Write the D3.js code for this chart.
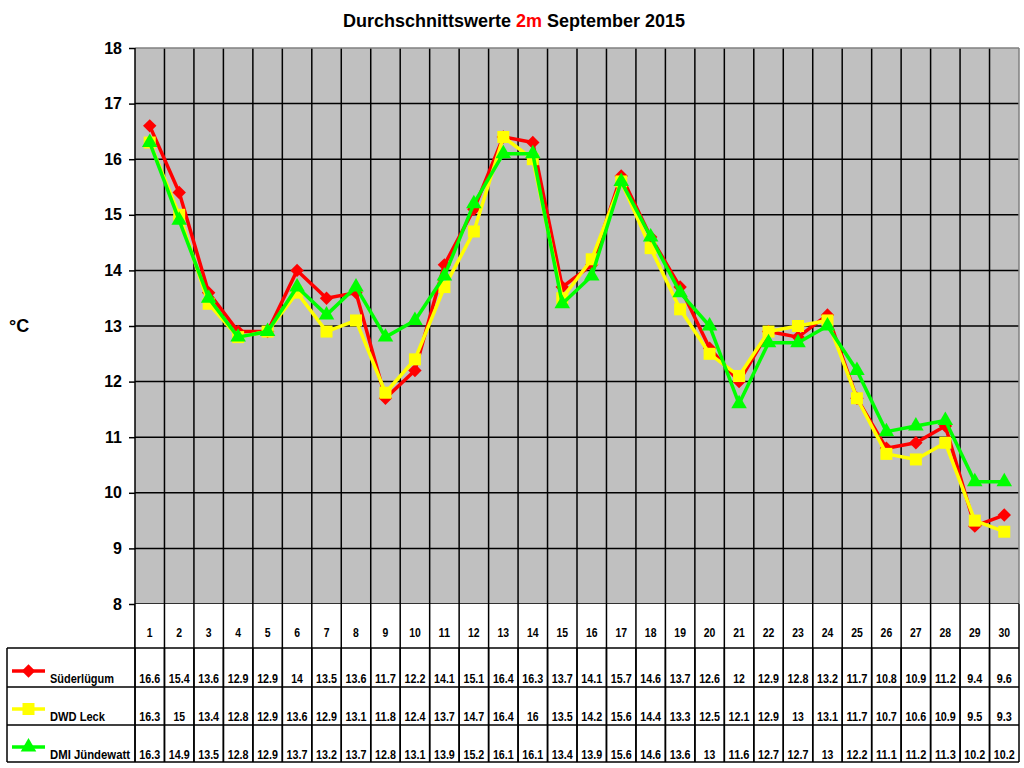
<!DOCTYPE html>
<html>
<head>
<meta charset="utf-8">
<script src="https://cdn.jsdelivr.net/npm/d3@7"></script>
<style>
  body { margin: 0; background: #fff; }
  svg { display: block; font-family: "Liberation Sans", Arial, sans-serif; }
</style>
</head>
<body>
<svg id="chart" width="1024" height="768"></svg>
<script>
// Daily mean temperatures at 2 m, September 2015
const days = d3.range(1, 31);
const seriesNames = ["Süderlügum", "DWD Leck", "DMI Jündewatt"];
const seriesColors = ["#ff0000", "#ffff00", "#00ff00"];
const seriesSymbols = ["diamond", "square", "triangle"];

const suederluegum = [16.6, 15.4, 13.6, 12.9, 12.9, 14, 13.5, 13.6, 11.7, 12.2, 14.1, 15.1, 16.4, 16.3, 13.7,
  14.1, 15.7, 14.6, 13.7, 12.6, 12, 12.9, 12.8, 13.2, 11.7, 10.8, 10.9, 11.2, 9.4, 9.6];
const dwdLeck = [16.3, 15, 13.4, 12.8, 12.9, 13.6, 12.9, 13.1, 11.8, 12.4, 13.7, 14.7, 16.4, 16, 13.5,
  14.2, 15.6, 14.4, 13.3, 12.5, 12.1, 12.9, 13, 13.1, 11.7, 10.7, 10.6, 10.9, 9.5, 9.3];
const dmiJuendewatt = [16.3, 14.9, 13.5, 12.8, 12.9, 13.7, 13.2, 13.7, 12.8, 13.1, 13.9, 15.2, 16.1, 16.1, 13.4,
  13.9, 15.6, 14.6, 13.6, 13, 11.6, 12.7, 12.7, 13, 12.2, 11.1, 11.2, 11.3, 10.2, 10.2];
const yTicks = d3.range(8, 19);

const allSeries = [suederluegum, dwdLeck, dmiJuendewatt];

const svg = d3.select("#chart");

const plotLeft = 135, plotRight = 1019, plotTop = 48, plotBottom = 604;
const tableLeft = 7;
const rowLines = [648, 687, 725, 762];
const tableFont = 12.5;

const x = d3.scaleBand().domain(days).range([plotLeft, plotRight]).padding(0);
const y = d3.scaleLinear().domain([8, 18]).range([plotBottom, plotTop]);
const cx = d => x(d) + x.bandwidth() / 2;

// title
const title = svg.append("text")
    .attr("x", 514).attr("y", 27)
    .attr("text-anchor", "middle")
    .attr("font-size", 18).attr("font-weight", "bold");
title.append("tspan").text("Durchschnittswerte ");
title.append("tspan").attr("fill", "#ff0000").text("2m");
title.append("tspan").text(" September 2015");

// plot background
svg.append("rect")
    .attr("x", plotLeft).attr("y", plotTop)
    .attr("width", plotRight - plotLeft).attr("height", plotBottom - plotTop)
    .attr("fill", "#c0c0c0");

// grid: horizontal
svg.append("g").selectAll("line")
    .data(yTicks.filter(t => t > 8 && t < 18))
    .join("line")
    .attr("x1", plotLeft).attr("x2", plotRight)
    .attr("y1", d => y(d)).attr("y2", d => y(d))
    .attr("stroke", "#000").attr("stroke-width", 1.5);

// grid: vertical (category boundaries), they continue through the table
svg.append("g").selectAll("line")
    .data(days.slice(1))
    .join("line")
    .attr("x1", d => x(d)).attr("x2", d => x(d))
    .attr("y1", plotTop).attr("y2", rowLines[3])
    .attr("stroke", "#000").attr("stroke-width", 1.5);

// plot border
svg.append("line").attr("x1", plotLeft).attr("x2", plotRight).attr("y1", plotTop).attr("y2", plotTop)
    .attr("stroke", "#808080").attr("stroke-width", 1.5);
svg.append("line").attr("x1", plotRight).attr("x2", plotRight).attr("y1", plotTop).attr("y2", plotBottom)
    .attr("stroke", "#808080").attr("stroke-width", 1.5);
svg.append("line").attr("x1", plotLeft).attr("x2", plotLeft).attr("y1", plotTop).attr("y2", rowLines[3])
    .attr("stroke", "#000").attr("stroke-width", 1.5);
svg.append("line").attr("x1", plotLeft).attr("x2", plotRight).attr("y1", plotBottom).attr("y2", plotBottom)
    .attr("stroke", "#000").attr("stroke-width", 1.5);

// y axis
const yAxis = svg.append("g")
    .attr("transform", `translate(${plotLeft},0)`)
    .call(d3.axisLeft(y).tickValues(yTicks).tickFormat(d3.format("d")).tickSize(6).tickPadding(7));
yAxis.select(".domain").remove();
yAxis.selectAll(".tick line").attr("stroke", "#000").attr("stroke-width", 1.5);
yAxis.selectAll(".tick text")
    .attr("font-size", 16).attr("font-weight", "bold")
    .attr("font-family", "Liberation Sans, Arial, sans-serif")
    .attr("fill", "#000");

svg.append("text").attr("x", 9).attr("y", 332)
    .attr("font-size", 18).attr("font-weight", "bold").text("°C");

// series lines and markers
const line = d3.line().x((d, i) => cx(days[i])).y(d => y(d));

// Excel-style diamond: as wide as it is tall
const squareDiamond = {
    draw(ctx, size) {
        const r = Math.sqrt(size / 2);
        ctx.moveTo(0, -r); ctx.lineTo(r, 0); ctx.lineTo(0, r); ctx.lineTo(-r, 0); ctx.closePath();
    }
};
const symbolTypes = { diamond: squareDiamond, square: d3.symbolSquare, triangle: d3.symbolTriangle };
const symbolSizes = { diamond: 90, square: 144, triangle: 105 };

allSeries.forEach((vals, s) => {
    const g = svg.append("g");
    g.append("path")
        .datum(vals)
        .attr("d", line)
        .attr("fill", "none")
        .attr("stroke", seriesColors[s])
        .attr("stroke-width", 3.5)
        .attr("stroke-linejoin", "round");
    g.selectAll("path.mk")
        .data(vals)
        .join("path")
        .attr("class", "mk")
        .attr("d", d3.symbol().type(symbolTypes[seriesSymbols[s]]).size(symbolSizes[seriesSymbols[s]]))
        .attr("transform", (d, i) => `translate(${cx(days[i])},${y(d)})`)
        .attr("fill", seriesColors[s]);
});

// data table
const table = svg.append("g");
table.append("rect").attr("x", plotLeft).attr("y", plotBottom)
    .attr("width", plotRight - plotLeft).attr("height", rowLines[0] - plotBottom).attr("fill", "#fff");
table.selectAll("line.row")
    .data(rowLines)
    .join("line")
    .attr("class", "row")
    .attr("x1", tableLeft).attr("x2", plotRight)
    .attr("y1", d => d).attr("y2", d => d)
    .attr("stroke", "#000").attr("stroke-width", 1.5);
table.append("line").attr("x1", tableLeft).attr("x2", tableLeft)
    .attr("y1", rowLines[0]).attr("y2", rowLines[3])
    .attr("stroke", "#000").attr("stroke-width", 1.5);
// redraw vertical lines over the table background
table.selectAll("line.col")
    .data(days.slice(1))
    .join("line")
    .attr("class", "col")
    .attr("x1", d => x(d)).attr("x2", d => x(d))
    .attr("y1", plotBottom).attr("y2", rowLines[3])
    .attr("stroke", "#000").attr("stroke-width", 1.5);
[plotLeft, plotRight].forEach(xx => {
    table.append("line").attr("x1", xx).attr("x2", xx)
        .attr("y1", plotBottom).attr("y2", rowLines[3])
        .attr("stroke", "#000").attr("stroke-width", 1.5);
});

// narrow text widths, as the Windows rendering of the original is condensed
const textWidth = str => {
    const n = str.replace(".", "").length;
    const dot = str.includes(".") ? 3.5 : 0;
    return n * 5.8 + dot;
};

table.selectAll("text.day")
    .data(days)
    .join("text")
    .attr("class", "day")
    .attr("x", d => cx(d)).attr("y", 637)
    .attr("text-anchor", "middle")
    .attr("font-size", tableFont).attr("font-weight", "bold")
    .attr("textLength", d => textWidth(String(d)))
    .attr("lengthAdjust", "spacingAndGlyphs")
    .text(d => d);

const rowBaselines = [683, 721, 759];
const legendWidths = [64, 55, 80];
allSeries.forEach((vals, s) => {
    table.selectAll(null)
        .data(vals)
        .join("text")
        .attr("x", (d, i) => cx(days[i])).attr("y", rowBaselines[s])
        .attr("text-anchor", "middle")
        .attr("font-size", tableFont).attr("font-weight", "bold")
        .attr("textLength", d => textWidth(String(d)))
        .attr("lengthAdjust", "spacingAndGlyphs")
        .text(d => d);

    // legend key
    const ky = rowBaselines[s] - 12;
    table.append("line").attr("x1", 12).attr("x2", 45).attr("y1", ky).attr("y2", ky)
        .attr("stroke", seriesColors[s]).attr("stroke-width", 3.5);
    table.append("path")
        .attr("d", d3.symbol().type(symbolTypes[seriesSymbols[s]]).size(symbolSizes[seriesSymbols[s]]))
        .attr("transform", `translate(28.5,${ky})`)
        .attr("fill", seriesColors[s]);
    table.append("text").attr("x", 50).attr("y", rowBaselines[s])
        .attr("font-size", tableFont).attr("font-weight", "bold")
        .attr("textLength", legendWidths[s])
        .attr("lengthAdjust", "spacingAndGlyphs")
        .text(seriesNames[s]);
});
</script>
</body>
</html>
